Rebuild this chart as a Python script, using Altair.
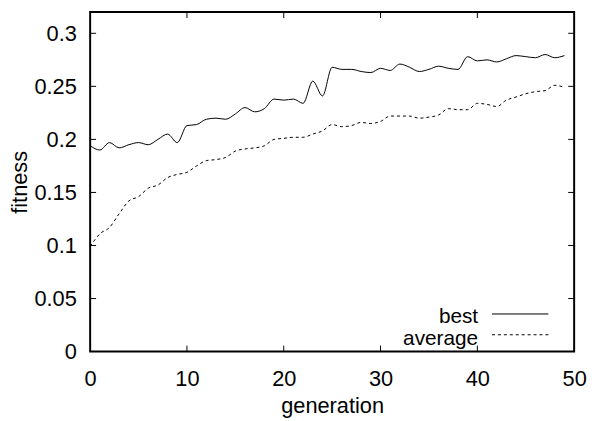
import altair as alt
import pandas as pd

generation = list(range(50))
best = [0.194, 0.190, 0.197, 0.192, 0.195, 0.197, 0.195, 0.200, 0.205, 0.197,
        0.213, 0.214, 0.219, 0.220, 0.219, 0.224, 0.230, 0.226, 0.229, 0.238,
        0.237, 0.238, 0.234, 0.255, 0.241, 0.268, 0.266, 0.266, 0.264, 0.263,
        0.267, 0.265, 0.271, 0.268, 0.264, 0.266, 0.269, 0.267, 0.266, 0.278,
        0.274, 0.275, 0.273, 0.276, 0.279, 0.278, 0.277, 0.280, 0.277, 0.279]
average = [0.099, 0.111, 0.117, 0.130, 0.142, 0.146, 0.154, 0.157, 0.164, 0.167,
           0.169, 0.175, 0.180, 0.181, 0.183, 0.189, 0.191, 0.192, 0.194, 0.200,
           0.201, 0.202, 0.202, 0.205, 0.208, 0.214, 0.212, 0.213, 0.216, 0.215,
           0.217, 0.222, 0.222, 0.222, 0.220, 0.221, 0.223, 0.229, 0.228, 0.228,
           0.234, 0.233, 0.231, 0.237, 0.240, 0.243, 0.245, 0.246, 0.251, 0.249]
x_ticks = [0, 10, 20, 30, 40, 50]
y_ticks = [0, 0.05, 0.1, 0.15, 0.2, 0.25, 0.3]

W, H = 489, 343
FONT = "Liberation Sans"
FS = 22
LFS = 21

df = pd.DataFrame({"generation": generation, "best": best, "average": average})
xt = pd.DataFrame({"v": x_ticks[1:-1]})
yt = pd.DataFrame({"v": y_ticks[1:]})

xscale = alt.Scale(domain=[0, 50], nice=False, zero=False)
yscale = alt.Scale(domain=[0, 0.32], nice=False)

xaxis = alt.Axis(values=x_ticks, title="generation", grid=False, ticks=False, tickSize=0,
                 domain=False, labelFont=FONT, labelFontSize=FS, labelColor="black",
                 labelPadding=17, titleFont=FONT, titleFontSize=FS, titleFontWeight="normal",
                 titleColor="black", titleBaseline="alphabetic", titleY=62, labelFlush=False)
yaxis = alt.Axis(values=y_ticks, format=".2~f", title="fitness", grid=False, ticks=False, tickSize=0,
                 domain=False, labelFont=FONT, labelFontSize=FS, labelColor="black",
                 labelPadding=14, titleFont=FONT, titleFontSize=FS, titleFontWeight="normal",
                 titleColor="black", titleBaseline="alphabetic", titleX=-64, titleAngle=-90)

base = alt.Chart(df)
best_line = base.mark_line(color="black", strokeWidth=1, interpolate="monotone").encode(
    x=alt.X("generation:Q", scale=xscale, axis=xaxis),
    y=alt.Y("best:Q", scale=yscale, axis=yaxis),
)
avg_line = base.mark_line(color="black", strokeWidth=1, strokeDash=[3, 3], interpolate="monotone").encode(
    x=alt.X("generation:Q", scale=xscale),
    y=alt.Y("average:Q", scale=yscale),
)

one = alt.Data(values=[{}])
frame = alt.Chart(one).mark_rect(fill=None, fillOpacity=0, stroke="black", strokeWidth=2).encode(
    x=alt.value(0), x2=alt.value(W), y=alt.value(0), y2=alt.value(H))

tick_style = dict(color="black", strokeWidth=1)
bt = alt.Chart(xt).mark_rule(**tick_style).encode(x=alt.X("v:Q", scale=xscale), y=alt.value(H), y2=alt.value(H - 6))
tt = alt.Chart(xt).mark_rule(**tick_style).encode(x=alt.X("v:Q", scale=xscale), y=alt.value(0), y2=alt.value(6))
lt = alt.Chart(yt).mark_rule(**tick_style).encode(y=alt.Y("v:Q", scale=yscale), x=alt.value(0), x2=alt.value(6))
rt = alt.Chart(yt).mark_rule(**tick_style).encode(y=alt.Y("v:Q", scale=yscale), x=alt.value(W), x2=alt.value(W - 6))

leg_text_best = alt.Chart(one).mark_text(align="right", baseline="alphabetic", font=FONT, fontSize=LFS, color="black").encode(
    x=alt.value(392), y=alt.value(314), text=alt.value("best"))
leg_text_avg = alt.Chart(one).mark_text(align="right", baseline="alphabetic", font=FONT, fontSize=LFS, color="black").encode(
    x=alt.value(392), y=alt.value(336), text=alt.value("average"))
leg_line_best = alt.Chart(one).mark_rule(color="black", strokeWidth=1).encode(
    x=alt.value(406), x2=alt.value(463), y=alt.value(305))
leg_line_avg = alt.Chart(one).mark_rule(color="black", strokeWidth=1, strokeDash=[3, 3]).encode(
    x=alt.value(406), x2=alt.value(463), y=alt.value(326))

chart = alt.layer(best_line, avg_line, frame, bt, tt, lt, rt,
                  leg_text_best, leg_text_avg, leg_line_best, leg_line_avg).properties(
    width=W, height=H,
    autosize=alt.AutoSizeParams(type="none"),
    padding={"left": 83, "top": 2, "right": 14, "bottom": 68},
    background="white",
).configure_view(strokeWidth=0)

chart.save("out.html", embed_options={"renderer": "svg", "actions": False})
